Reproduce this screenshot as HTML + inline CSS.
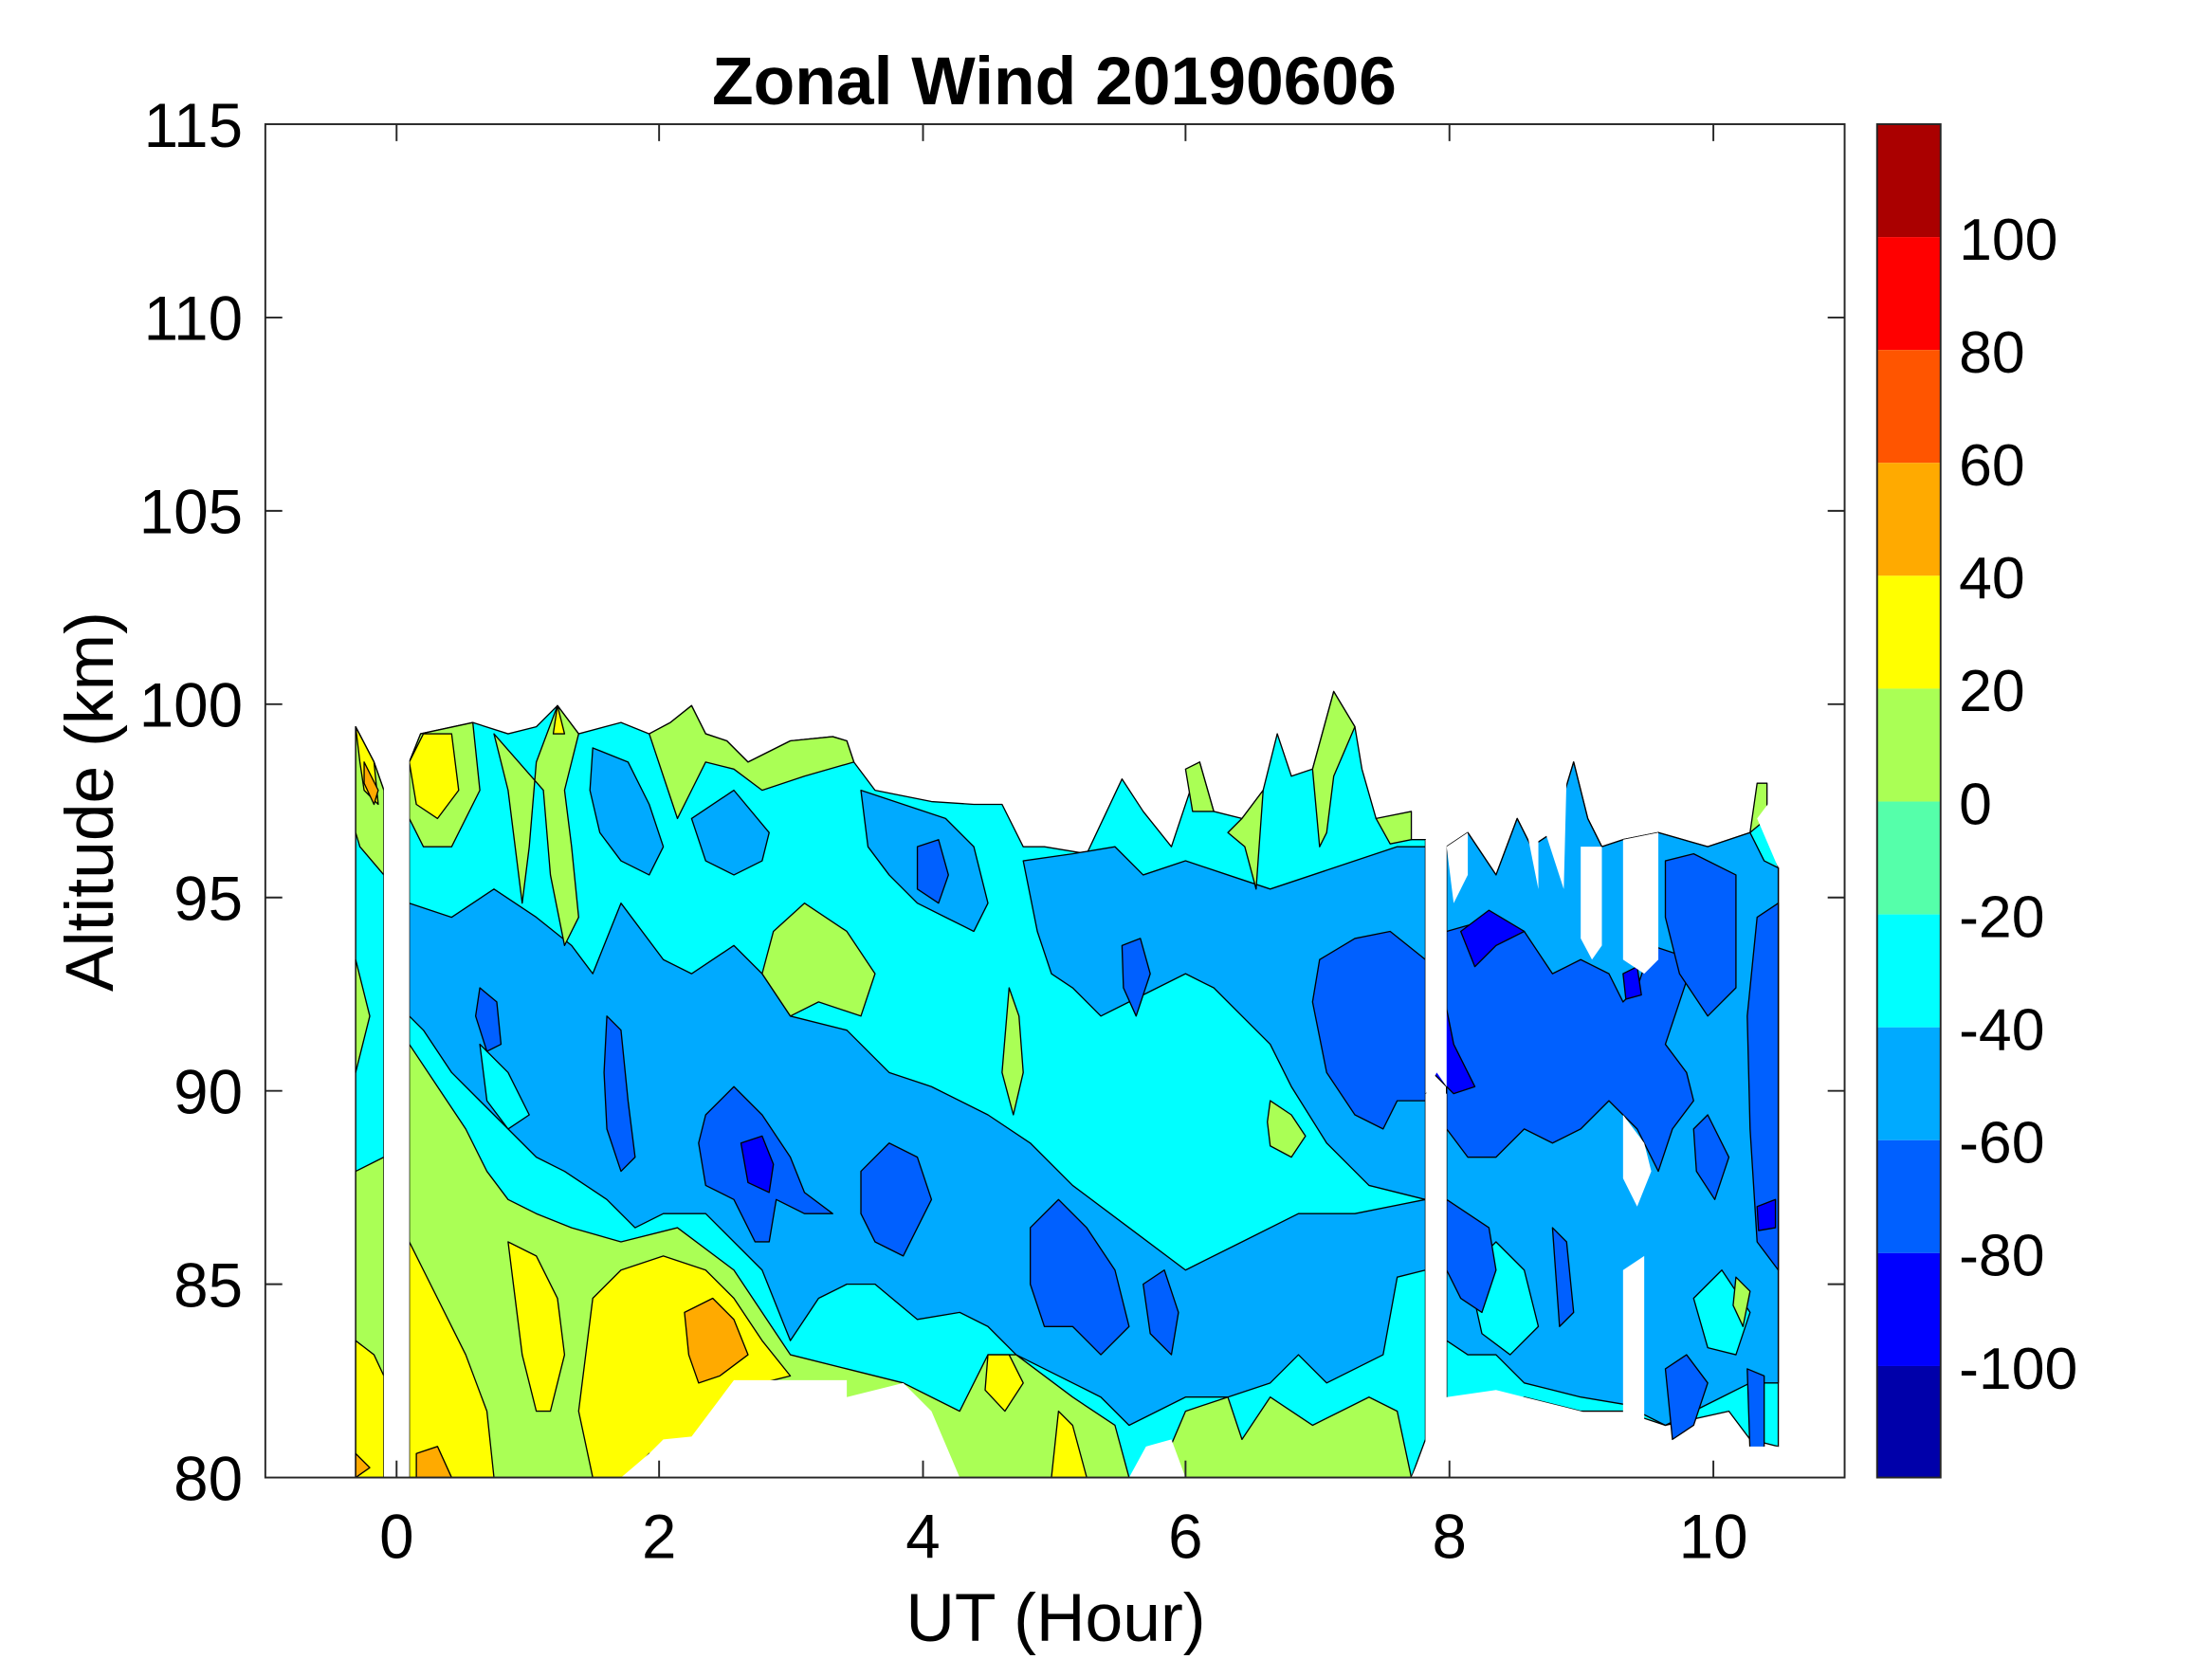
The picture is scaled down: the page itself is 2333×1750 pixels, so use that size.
<!DOCTYPE html>
<html><head><meta charset="utf-8"><style>
html,body{margin:0;padding:0;background:#fff;}
svg{display:block;}
text{font-family:"Liberation Sans",Arial,sans-serif;fill:#000;}
</style></head><body>
<svg width="2333" height="1750" viewBox="0 0 1567.3 1175.6" preserveAspectRatio="none" xmlns="http://www.w3.org/2000/svg">
<defs><clipPath id="pc"><rect x="188" y="88" width="1119" height="959"/></clipPath></defs>
<g clip-path="url(#pc)" stroke="#000" stroke-width="0.9" stroke-linejoin="round">
<polygon fill="#00FFFF" points="252,515 265,540 272,560 272,1047 252,1047"/>
<polygon fill="#00FFFF" points="290,540 298,520 335,512 360,520 380,515 395,500 410,520 440,512 460,520 475,512 490,500 500,520 515,525 530,540 560,525 590,522 600,525 605,540 620,560 660,568 690,570 710,570 725,600 740,600 770,605 795,552 810,575 830,600 850,540 860,575 880,580 895,560 905,520 915,550 930,545 945,490 960,515 965,545 975,580 1000,595 1010,595 1010,1020 1000,1047 800,1047 790,1047 740,1047 680,1047 660,1000 640,980 600,990 555,978 520,978 490,1018 460,1030 440,1047 290,1047"/>
<polygon fill="#00FFFF" points="1025,600 1040,590 1060,620 1075,580 1085,600 1100,590 1115,540 1125,580 1135,600 1150,595 1175,590 1210,600 1240,590 1250,580 1260,615 1260,1025 1240,1020 1225,1000 1180,1010 1150,1000 1120,1000 1080,990 1040,1000 1025,990"/>
<polygon fill="#00AAFF" points="290,640 320,650 350,630 380,650 405,670 420,690 440,640 470,680 490,690 520,670 540,690 560,720 600,730 630,760 660,770 700,790 730,810 760,840 800,870 840,900 880,880 920,860 960,860 1010,850 1010,900 990,905 980,960 960,970 940,980 920,960 900,980 870,990 840,990 800,1010 780,990 760,980 720,960 700,940 680,930 650,935 620,910 600,910 580,920 560,950 540,900 500,860 470,860 450,870 430,850 400,830 380,820 350,790 320,760 300,730 290,720"/>
<polygon fill="#00AAFF" points="725,610 760,605 790,600 810,620 840,610 870,620 900,630 930,620 960,610 990,600 1010,600 1010,850 970,840 940,810 915,770 900,740 880,720 860,700 840,690 820,700 800,710 780,720 760,700 745,690 735,660"/>
<polygon fill="#00AAFF" points="420,530 445,540 460,570 470,600 460,620 440,610 425,590 418,560"/>
<polygon fill="#00AAFF" points="490,580 520,560 545,590 540,610 520,620 500,610"/>
<polygon fill="#00AAFF" points="610,560 640,570 670,580 690,600 700,640 690,660 670,650 650,640 630,620 615,600"/>
<polygon fill="#00AAFF" points="1025,600 1040,590 1060,620 1075,580 1085,600 1100,590 1115,540 1125,580 1135,600 1150,595 1175,590 1210,600 1240,590 1250,610 1260,615 1260,980 1240,980 1220,990 1200,1000 1180,1010 1150,995 1120,990 1100,985 1080,980 1060,960 1040,960 1025,950"/>
<polygon fill="#00FFFF" points="340,740 360,760 375,790 360,800 345,780"/>
<polygon fill="#00FFFF" points="1120,730 1135,740 1130,770 1118,760"/>
<polygon fill="#00FFFF" points="1160,760 1175,770 1172,800 1160,790"/>
<polygon fill="#00FFFF" points="1040,900 1060,880 1080,900 1090,940 1070,960 1050,945"/>
<polygon fill="#00FFFF" points="1200,920 1220,900 1240,930 1230,960 1210,955"/>
<polygon fill="#AAFF55" points="252,515 265,540 272,560 272,620 255,600 252,590"/>
<polygon fill="#AAFF55" points="252,680 262,720 252,760"/>
<polygon fill="#AAFF55" points="252,830 272,820 272,1047 252,1047"/>
<polygon fill="#AAFF55" points="290,740 310,770 330,800 345,830 360,850 380,860 405,870 440,880 480,870 520,900 540,930 560,960 600,970 640,980 660,990 680,1000 700,960 720,960 760,990 790,1010 800,1047 290,1047"/>
<polygon fill="#AAFF55" points="290,540 298,520 335,512 340,560 320,600 300,600 290,580"/>
<polygon fill="#AAFF55" points="350,520 360,560 365,600 370,640 375,600 380,540 395,500 410,520 400,560 405,600 410,650 400,670 390,620 385,560"/>
<polygon fill="#AAFF55" points="460,520 475,512 490,500 500,520 515,525 530,540 560,525 590,522 600,525 605,540 570,550 540,560 520,545 500,540 490,560 480,580 470,550"/>
<polygon fill="#AAFF55" points="570,640 600,660 620,690 610,720 580,710 560,720 540,690 548,660"/>
<polygon fill="#AAFF55" points="715,700 722,720 725,760 718,790 710,760"/>
<polygon fill="#AAFF55" points="900,780 915,790 925,805 915,820 900,812 898,795"/>
<polygon fill="#AAFF55" points="840,545 850,540 860,575 845,575"/>
<polygon fill="#AAFF55" points="870,590 880,580 895,560 890,630 882,600"/>
<polygon fill="#AAFF55" points="930,545 945,490 960,515 945,550 940,590 935,600"/>
<polygon fill="#AAFF55" points="975,580 1000,575 1000,595 985,598"/>
<polygon fill="#AAFF55" points="820,1047 840,1000 870,990 880,1020 900,990 930,1010 950,1000 970,990 990,1000 1000,1047"/>
<polygon fill="#AAFF55" points="1240,590 1245,555 1252,555 1252,580"/>
<polygon fill="#AAFF55" points="1230,905 1240,915 1235,940 1228,925"/>
<polygon fill="#FFFF00" points="252,515 265,540 268,570 258,560 255,540"/>
<polygon fill="#FFFF00" points="252,950 265,960 272,975 272,1047 252,1047"/>
<polygon fill="#FFFF00" points="290,880 300,900 320,940 330,960 345,1000 350,1047 290,1047"/>
<polygon fill="#FFFF00" points="290,540 300,520 320,520 325,560 310,580 295,570"/>
<polygon fill="#FFFF00" points="360,880 380,890 395,920 400,960 390,1000 380,1000 370,960 365,920"/>
<polygon fill="#FFFF00" points="420,920 440,900 470,890 500,900 520,920 540,950 560,975 540,980 500,1010 480,1030 460,1030 445,1047 420,1047 410,1000"/>
<polygon fill="#FFFF00" points="700,960 715,960 725,980 712,1000 698,985"/>
<polygon fill="#FFFF00" points="750,1000 760,1010 770,1047 745,1047"/>
<polygon fill="#FFFF00" points="395,500 400,520 392,520"/>
<polygon fill="#FFAA00" points="485,930 505,920 520,935 530,960 510,975 495,980 488,960"/>
<polygon fill="#FFAA00" points="258,540 268,560 265,570 258,555"/>
<polygon fill="#FFAA00" points="295,1030 310,1025 320,1047 295,1047"/>
<polygon fill="#FFAA00" points="252,1030 262,1040 252,1047"/>
<polygon fill="#0060FF" points="430,720 440,730 445,780 450,820 440,830 430,800 428,760"/>
<polygon fill="#0060FF" points="340,700 352,710 355,740 345,745 337,720"/>
<polygon fill="#0060FF" points="500,790 520,770 540,790 560,820 570,845 590,860 570,860 550,850 545,880 535,880 520,850 500,840 495,810"/>
<polygon fill="#0060FF" points="610,830 630,810 650,820 660,850 650,870 640,890 620,880 610,860"/>
<polygon fill="#0060FF" points="730,870 750,850 770,870 790,900 800,940 780,960 760,940 740,940 730,910"/>
<polygon fill="#0060FF" points="810,910 825,900 835,930 830,960 815,945"/>
<polygon fill="#0060FF" points="650,600 665,595 672,620 665,640 650,630"/>
<polygon fill="#0060FF" points="795,670 808,665 815,690 805,720 796,700"/>
<polygon fill="#0060FF" points="930,710 935,680 960,665 985,660 1010,680 1010,780 990,780 980,800 960,790 940,760"/>
<polygon fill="#0060FF" points="1025,660 1060,650 1080,660 1100,690 1120,680 1140,690 1150,710 1160,700 1170,670 1200,680 1180,740 1195,760 1200,780 1185,800 1175,830 1160,800 1140,780 1120,800 1100,810 1080,800 1060,820 1040,820 1025,800"/>
<polygon fill="#0060FF" points="1180,610 1200,605 1230,620 1230,700 1210,720 1190,690 1180,650"/>
<polygon fill="#0060FF" points="1245,650 1260,640 1260,900 1245,880 1240,800 1238,720"/>
<polygon fill="#0060FF" points="1025,850 1040,860 1055,870 1060,900 1050,930 1035,920 1025,900"/>
<polygon fill="#0060FF" points="1100,870 1110,880 1115,930 1105,940"/>
<polygon fill="#0060FF" points="1180,970 1195,960 1210,980 1200,1010 1185,1020"/>
<polygon fill="#0060FF" points="1238,970 1250,975 1250,1025 1240,1030"/>
<polygon fill="#0060FF" points="1200,800 1210,790 1225,820 1215,850 1202,830"/>
<polygon fill="#0000FF" points="525,810 540,805 548,825 545,845 530,838"/>
<polygon fill="#0000FF" points="1012,720 1020,690 1030,740 1045,770 1030,775 1015,760"/>
<polygon fill="#0000FF" points="1035,660 1055,645 1080,660 1060,670 1045,685"/>
<polygon fill="#0000FF" points="1245,855 1258,850 1258,870 1246,872"/>
<polygon fill="#0000FF" points="1150,690 1160,685 1163,705 1152,708"/>
</g>
<g fill="#fff">
<rect x="272" y="500" width="18" height="547"/>
<polygon points="1010,595 1025,595 1025,770 1018,760 1010,775"/>
<rect x="1010" y="775" width="15" height="272"/>
<polygon points="1025,600 1040,590 1040,620 1030,640"/>
<polygon points="1120,600 1135,600 1135,670 1128,680 1120,665"/>
<polygon points="1150,595 1175,590 1175,680 1165,690 1150,680"/>
<polygon points="1150,790 1165,810 1170,830 1160,855 1150,835"/>
<polygon points="1150,900 1165,890 1165,1047 1150,1047"/>
<polygon points="1080,580 1090,560 1090,630"/>
<polygon points="1095,590 1110,550 1108,630"/>
<polygon points="1260,560 1260,615 1245,580"/>
<polygon points="460,1030 470,1020 490,1018 520,978 600,978 600,990 640,980 660,1000 680,1047 440,1047"/>
<polygon points="800,1047 812,1025 830,1020 840,1047"/>
<polygon points="1025,990 1060,985 1080,990 1120,1000 1150,1010 1180,1020 1200,1025 1260,1025 1260,1047 1000,1047"/>
</g>
<rect x="188" y="88" width="1119" height="959" fill="none" stroke="#262626" stroke-width="1.3"/>
<g stroke="#262626" stroke-width="1.3">
<line x1="188" y1="225" x2="200" y2="225"/><line x1="188" y1="362" x2="200" y2="362"/><line x1="188" y1="499" x2="200" y2="499"/><line x1="188" y1="636" x2="200" y2="636"/><line x1="188" y1="773" x2="200" y2="773"/><line x1="188" y1="910" x2="200" y2="910"/>
<line x1="1307" y1="225" x2="1295" y2="225"/><line x1="1307" y1="362" x2="1295" y2="362"/><line x1="1307" y1="499" x2="1295" y2="499"/><line x1="1307" y1="636" x2="1295" y2="636"/><line x1="1307" y1="773" x2="1295" y2="773"/><line x1="1307" y1="910" x2="1295" y2="910"/>
<line x1="281" y1="1047" x2="281" y2="1035"/><line x1="467" y1="1047" x2="467" y2="1035"/><line x1="654" y1="1047" x2="654" y2="1035"/><line x1="840" y1="1047" x2="840" y2="1035"/><line x1="1027" y1="1047" x2="1027" y2="1035"/><line x1="1214" y1="1047" x2="1214" y2="1035"/>
<line x1="281" y1="88" x2="281" y2="100"/><line x1="467" y1="88" x2="467" y2="100"/><line x1="654" y1="88" x2="654" y2="100"/><line x1="840" y1="88" x2="840" y2="100"/><line x1="1027" y1="88" x2="1027" y2="100"/><line x1="1214" y1="88" x2="1214" y2="100"/>
</g>
<g font-size="44" text-anchor="end">
<text x="172" y="104">115</text><text x="172" y="241">110</text><text x="172" y="378">105</text><text x="172" y="515">100</text><text x="172" y="652">95</text><text x="172" y="789">90</text><text x="172" y="926">85</text><text x="172" y="1063">80</text>
</g>
<g font-size="44" text-anchor="middle">
<text x="281" y="1104">0</text><text x="467" y="1104">2</text><text x="654" y="1104">4</text><text x="840" y="1104">6</text><text x="1027" y="1104">8</text><text x="1214" y="1104">10</text>
<text x="748" y="1163" font-size="48">UT (Hour)</text>
<text x="747" y="74" font-size="48" font-weight="bold">Zonal Wind 20190606</text>
</g>
<text transform="translate(80,568) rotate(-90)" font-size="48" text-anchor="middle">Altitude (km)</text>
<g>
<rect x="1330" y="88" width="45" height="80" fill="#AA0000"/>
<rect x="1330" y="168" width="45" height="80" fill="#FF0000"/>
<rect x="1330" y="248" width="45" height="80" fill="#FF5500"/>
<rect x="1330" y="328" width="45" height="80" fill="#FFAA00"/>
<rect x="1330" y="408" width="45" height="80" fill="#FFFF00"/>
<rect x="1330" y="488" width="45" height="80" fill="#AAFF55"/>
<rect x="1330" y="568" width="45" height="80" fill="#55FFAA"/>
<rect x="1330" y="648" width="45" height="80" fill="#00FFFF"/>
<rect x="1330" y="728" width="45" height="80" fill="#00AAFF"/>
<rect x="1330" y="808" width="45" height="80" fill="#0060FF"/>
<rect x="1330" y="888" width="45" height="80" fill="#0000FF"/>
<rect x="1330" y="968" width="45" height="79" fill="#0000AA"/>
<rect x="1330" y="88" width="45" height="959" fill="none" stroke="#262626" stroke-width="1.3"/>
</g>
<g font-size="42">
<text x="1388" y="184">100</text><text x="1388" y="264">80</text><text x="1388" y="344">60</text><text x="1388" y="424">40</text><text x="1388" y="504">20</text><text x="1388" y="584">0</text><text x="1388" y="664">-20</text><text x="1388" y="744">-40</text><text x="1388" y="824">-60</text><text x="1388" y="904">-80</text><text x="1388" y="984">-100</text>
</g>
</svg>
</body></html>
